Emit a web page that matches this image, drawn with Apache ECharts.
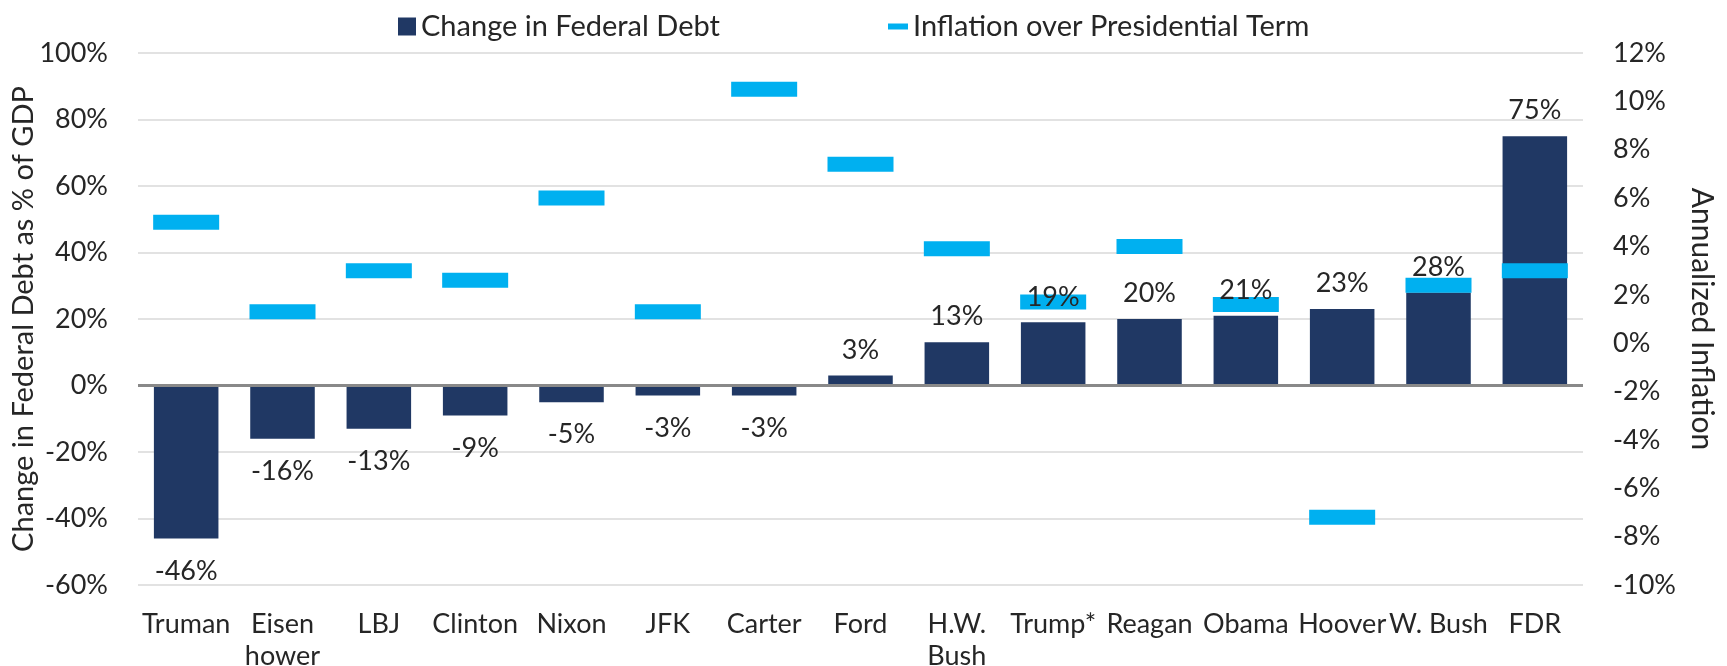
<!DOCTYPE html>
<html>
<head>
<meta charset="utf-8">
<title>Federal Debt and Inflation by Presidential Term</title>
<script src="https://cdn.jsdelivr.net/npm/echarts@6/dist/echarts.min.js"></script>
<style>
  html, body { margin: 0; padding: 0; background: #ffffff; }
  #chart { width: 1727px; height: 666px; }
</style>
</head>
<body>
<div id="chart"></div>
<script>
// Presidents, ordered by change in federal debt
const presidents = ['Truman', 'Eisen\nhower', 'LBJ', 'Clinton', 'Nixon', 'JFK', 'Carter', 'Ford',
  'H.W.\nBush', 'Trump*', 'Reagan', 'Obama', 'Hoover', 'W. Bush', 'FDR'];

// Change in federal debt as % of GDP over each term
const debtChange = [-46, -16, -13, -9, -5, -3, -3, 3, 13, 19, 20, 21, 23, 28, 75];

// Annualized inflation over each presidential term (%)
const inflation = [5.0, 1.3, 3.0, 2.6, 6.0, 1.3, 10.5, 7.4, 3.9, 1.7, 4.0, 1.6, -7.2, 2.4, 3.0];

// Axis ranges (tick labels run from min to max in steps of interval)
const debtAxis = { min: -60, max: 100, interval: 20 };
const inflationAxis = { min: -10, max: 12, interval: 2 };

const FONT = 'Lato';
const TEXT = '#262626';
const NAVY = '#203864';
const CYAN = '#00B0F0';

const chart = echarts.init(document.getElementById('chart'), null, { renderer: 'canvas' });

// Value labels sit above positive bars and below negative ones
const labelData = debtChange.map(v => ({
  value: v,
  label: { position: v < 0 ? 'bottom' : 'top', distance: v < 0 ? 19 : 12 }
}));

const legendText = { fontFamily: FONT, fontSize: 29, color: TEXT };

chart.setOption({
  animation: false,
  textStyle: { fontFamily: FONT, color: TEXT },
  legend: [
    {
      data: [{ name: 'Change in Federal Debt', icon: 'rect' }],
      left: 393, top: 7,
      itemWidth: 18, itemHeight: 18,
      textStyle: legendText,
      selectedMode: false
    },
    {
      data: [{ name: 'Inflation over Presidential Term', icon: 'path://M0,0h20v6h-20z' }],
      left: 883, top: 7,
      itemWidth: 20, itemHeight: 18,
      textStyle: legendText,
      selectedMode: false
    }
  ],
  grid: { left: 138, right: 144, top: 53, bottom: 81, containLabel: false, outerBoundsMode: 'none' },
  xAxis: {
    type: 'category',
    data: presidents,
    axisLine: { show: false, onZero: false },
    axisTick: { show: false },
    axisLabel: { fontFamily: FONT, fontSize: 27, lineHeight: 32, color: TEXT, margin: 23, interval: 0 }
  },
  yAxis: [
    {
      type: 'value',
      min: debtAxis.min, max: debtAxis.max, interval: debtAxis.interval,
      name: 'Change in Federal Debt as % of GDP',
      nameLocation: 'middle',
      nameGap: 100,
      nameMoveOverlap: false,
      nameTextStyle: { fontFamily: FONT, fontSize: 29, color: TEXT },
      axisLine: { show: false },
      axisTick: { show: false },
      axisLabel: { formatter: '{value}%', fontFamily: FONT, fontSize: 27, color: TEXT, margin: 30 },
      splitLine: { lineStyle: { color: '#d9d9d9', width: 1.5 } }
    },
    {
      type: 'value',
      position: 'right',
      min: inflationAxis.min, max: inflationAxis.max, interval: inflationAxis.interval,
      name: 'Annualized Inflation',
      nameLocation: 'middle',
      nameRotate: -90,
      nameGap: 104,
      nameMoveOverlap: false,
      nameTextStyle: { fontFamily: FONT, fontSize: 30, color: TEXT },
      axisLine: { show: false },
      axisTick: { show: false },
      axisLabel: { formatter: '{value}%', fontFamily: FONT, fontSize: 27, color: TEXT, margin: 30 },
      splitLine: { show: false }
    }
  ],
  series: [
    {
      name: 'Change in Federal Debt',
      type: 'bar',
      data: debtChange,
      barWidth: '67%',
      barGap: '-100%',
      z: 2,
      itemStyle: { color: NAVY },
      markLine: {
        silent: true,
        symbol: 'none',
        label: { show: false },
        lineStyle: { color: '#898989', width: 3, type: 'solid' },
        data: [{ yAxis: 0 }]
      }
    },
    {
      name: 'Inflation over Presidential Term',
      type: 'scatter',
      yAxisIndex: 1,
      data: inflation,
      symbol: 'rect',
      symbolSize: [66, 15],
      z: 3,
      itemStyle: { color: CYAN, opacity: 1 }
    },
    {
      // transparent copy of the bars that carries the value labels above the markers
      name: 'Debt labels',
      type: 'bar',
      data: labelData,
      barWidth: '67%',
      barGap: '-100%',
      z: 4,
      silent: true,
      itemStyle: { color: 'rgba(0,0,0,0)' },
      label: {
        show: true,
        formatter: '{c}%',
        fontFamily: FONT,
        fontSize: 27,
        color: TEXT
      }
    }
  ]
});
</script>
</body>
</html>
